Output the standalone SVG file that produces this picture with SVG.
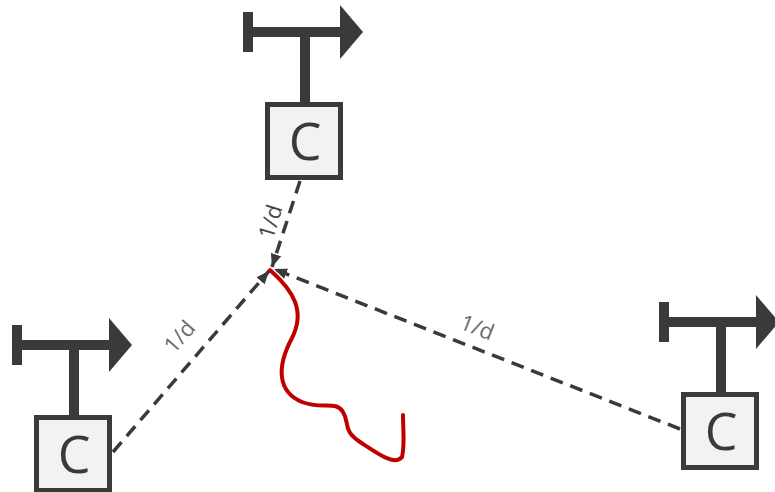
<svg xmlns="http://www.w3.org/2000/svg" width="775" height="492" viewBox="0 0 775 492">
  <style>
    .box { fill: #f2f2f2; stroke: #3a3a3a; stroke-width: 5; }
    .ink { fill: #3a3a3a; }
    .letter { font-family: "Open Sans", "Liberation Sans", sans-serif; font-size: 52px; fill: #3a3a3a; text-anchor: middle; }
    .link { fill: none; stroke: #3a3a3a; stroke-width: 3.5; stroke-dasharray: 13 8; }
    .lbl { font-family: "Open Sans", "Liberation Sans", sans-serif; font-size: 22px; fill: #6a6a6a; text-anchor: middle; }
    .track { fill: none; stroke: #c00000; stroke-width: 4; stroke-linecap: round; stroke-linejoin: round; }
  </style>
  <defs>
    <marker id="head" viewBox="0 0 12 10" refX="12" refY="5" markerWidth="13" markerHeight="11" markerUnits="userSpaceOnUse" orient="auto">
      <path d="M0,0 L12,5 L0,10 z" fill="#3a3a3a"/>
    </marker>
    <!-- transmitter: T-shaped mast with end cap and arrow, over a labelled box -->
    <g id="mast">
      <rect class="ink" x="-61" y="-90" width="10" height="40"/>
      <rect class="ink" x="-52" y="-75" width="90" height="10"/>
      <polygon class="ink" points="36,-97 59,-70 36,-43"/>
      <rect class="ink" x="-4" y="-70" width="10" height="74"/>
    </g>
  </defs>

  <g id="connectors">
    <line class="link" x1="300" y1="181" x2="272" y2="267" marker-end="url(#head)"/>
    <line class="link" x1="113" y1="452" x2="269" y2="271" marker-end="url(#head)"/>
    <line class="link" x1="680" y1="429" x2="274" y2="269" marker-end="url(#head)"/>
    <text class="lbl" style="fill:#454545" transform="translate(271,222) rotate(-73)" dy="7">1/d</text>
    <text class="lbl" transform="translate(180,337) rotate(-49)" dy="7">1/d</text>
    <text class="lbl" transform="translate(477,328) rotate(21.6)" dy="7">1/d</text>
  </g>

  <path id="track" class="track" d="M270,270 C295,292 305,312 292,338 C276,368 278,392 302,402 C322,410 336,400 343,412 C350,423 342,430 360,442 C380,455 395,466 402,457 C405,445 403,430 403,415"/>

  <g id="node-top" transform="translate(304,102)">
    <use href="#mast"/>
    <rect class="box" x="-36.5" y="2.5" width="73" height="73"/>
    <text class="letter" x="1" y="58">C</text>
  </g>

  <g id="node-left" transform="translate(73,415)">
    <use href="#mast"/>
    <rect class="box" x="-36.5" y="2.5" width="73" height="73"/>
    <text class="letter" x="1" y="58">C</text>
  </g>

  <g id="node-right" transform="translate(720,392)">
    <use href="#mast"/>
    <rect class="box" x="-36.5" y="2.5" width="73" height="73"/>
    <text class="letter" x="1" y="58">C</text>
  </g>
</svg>
